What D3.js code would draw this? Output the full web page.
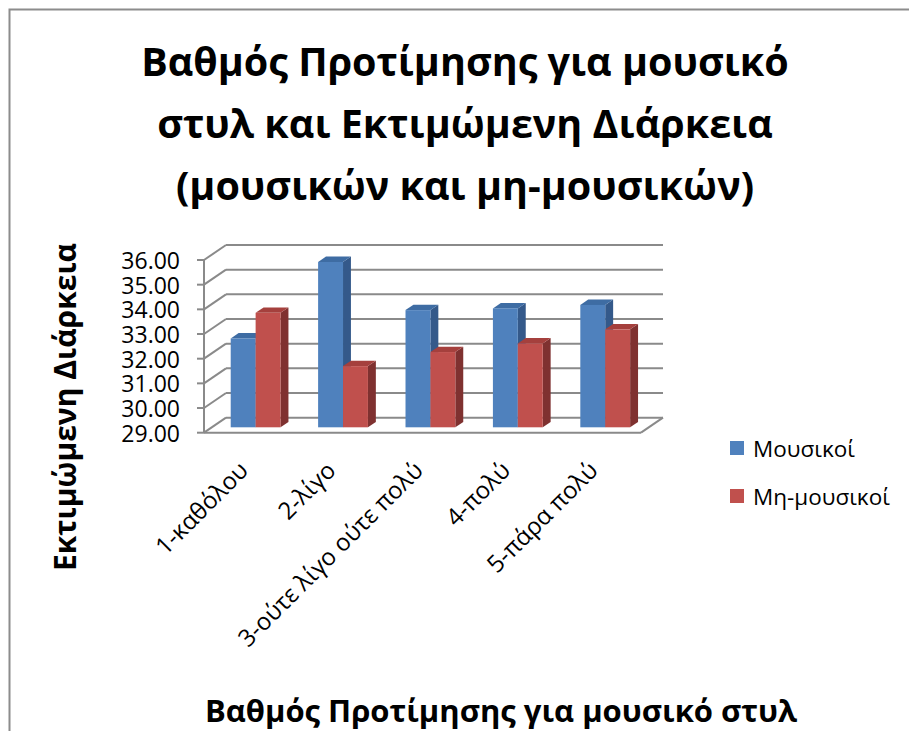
<!DOCTYPE html>
<html>
<head>
<meta charset="utf-8">
<script src="https://cdn.jsdelivr.net/npm/d3@7"></script>
<style>
  html, body { margin: 0; padding: 0; background: #fff; }
  svg text { font-family: "Open Sans", "Noto Sans", sans-serif; fill: #000; }
</style>
</head>
<body>
<svg id="chart" width="909" height="731"></svg>
<script>
// Data
const categories = ["1-καθόλου", "2-λίγο", "3-ούτε λίγο ούτε πολύ", "4-πολύ", "5-πάρα πολύ"];
const seriesNames = ["Μουσικοί", "Μη-μουσικοί"];
const musicians = [32.60, 35.70, 33.75, 33.82, 33.96];
const nonMusicians = [33.64, 31.48, 32.05, 32.40, 32.97];
const yTicks = [29, 30, 31, 32, 33, 34, 35, 36];
const titleLines = ["Βαθμός Προτίμησης για μουσικό", "στυλ και Εκτιμώμενη Διάρκεια", "(μουσικών και μη-μουσικών)"];
const xTitle = "Βαθμός Προτίμησης για μουσικό στυλ";
const yTitle = "Εκτιμώμενη Διάρκεια";

const seriesValues = [musicians, nonMusicians];
const palette = {
  front: ["#4F81BD", "#C0504D"],
  top:   ["#3E6CA3", "#A5403D"],
  side:  ["#34598A", "#7F3130"]
};

const svg = d3.select("#chart");

// Outer frame (runs off the right and bottom edges)
svg.append("rect")
  .attr("x", 9.5).attr("y", 9.5).attr("width", 1000).attr("height", 1000)
  .attr("fill", "none").attr("stroke", "#8c8c8c").attr("stroke-width", 2);

// 3D projection: depth offset of the back wall
const DX = 22, DY = -15;
const F0 = 0.36, F1 = 0.72; // bar front/back depth fraction

const y = d3.scaleLinear().domain([29, 36]).range([432.7, 260]);
const x = d3.scaleBand().domain(categories).range([204, 641])
  .paddingInner(0.43).paddingOuter(0.215);
const xs = d3.scaleBand().domain(seriesNames).range([0, x.bandwidth()]);

const grid = svg.append("g").attr("stroke", "#8a8a8a").attr("stroke-width", 2).attr("fill", "none");
const x0 = x.range()[0], x1 = x.range()[1];

// Back wall gridlines
grid.selectAll("line.back").data(yTicks).join("line")
  .attr("x1", x0 + DX).attr("x2", x1 + DX)
  .attr("y1", d => y(d) + DY).attr("y2", d => y(d) + DY);
// Side wall diagonals
grid.selectAll("line.side").data(yTicks).join("line")
  .attr("x1", x0).attr("x2", x0 + DX)
  .attr("y1", d => y(d)).attr("y2", d => y(d) + DY);
// Tick marks
grid.selectAll("line.tick").data(yTicks).join("line")
  .attr("x1", x0 - 7).attr("x2", x0)
  .attr("y1", d => y(d)).attr("y2", d => y(d));
// Vertical axis
grid.append("line").attr("x1", x0).attr("x2", x0)
  .attr("y1", y(36)).attr("y2", y(29));
// Floor front edge and right edge
grid.append("line").attr("x1", x0).attr("x2", x1)
  .attr("y1", y(29)).attr("y2", y(29));
grid.append("line").attr("x1", x1).attr("x2", x1 + DX)
  .attr("y1", y(29)).attr("y2", y(29) + DY);

// Y tick labels
svg.append("g").selectAll("text").data(yTicks).join("text")
  .attr("x", 180).attr("y", d => y(d))
  .attr("text-anchor", "end").attr("dominant-baseline", "central")
  .style("font-size", "23px")
  .text(d => d3.format(".2f")(d));

// Bars
const bars = svg.append("g");
categories.forEach((cat, ci) => {
  seriesNames.forEach((s, si) => {
    const v = seriesValues[si][ci];
    const bx0 = x(cat) + xs(s) + DX * F0;
    const bx1 = bx0 + xs.bandwidth();
    const top = y(v) + DY * F0;
    const bot = y(29) + DY * F0;
    const ddx = DX * (F1 - F0), ddy = DY * (F1 - F0);
    const g = bars.append("g");
    g.append("polygon")
      .attr("points", [[bx1, top], [bx1 + ddx, top + ddy], [bx1 + ddx, bot + ddy], [bx1, bot]].join(" "))
      .attr("fill", palette.side[si]);
    g.append("polygon")
      .attr("points", [[bx0, top], [bx1, top], [bx1 + ddx, top + ddy], [bx0 + ddx, top + ddy]].join(" "))
      .attr("fill", palette.top[si]);
    g.append("rect")
      .attr("x", bx0).attr("y", top).attr("width", bx1 - bx0).attr("height", bot - top)
      .attr("fill", palette.front[si]);
  });
});

// Category labels, rotated
svg.append("g").selectAll("text").data(categories).join("text")
  .attr("transform", d => `translate(${x(d) + x.bandwidth() / 2 + 2},472) rotate(-45)`)
  .attr("text-anchor", "end")
  .style("font-size", "24px")
  .text(d => d);

// Title
svg.append("g").selectAll("text").data(titleLines).join("text")
  .attr("x", 465).attr("y", (d, i) => 76 + i * 62)
  .attr("text-anchor", "middle")
  .style("font-size", "39.5px").style("font-weight", "bold")
  .text(d => d);

// Axis titles
svg.append("text")
  .attr("transform", "translate(76,407) rotate(-90)")
  .attr("text-anchor", "middle")
  .style("font-size", "30px").style("font-weight", "bold")
  .text(yTitle);
svg.append("text")
  .attr("x", 501).attr("y", 722)
  .attr("text-anchor", "middle")
  .style("font-size", "31px").style("font-weight", "bold")
  .text(xTitle);

// Legend
const legend = svg.append("g");
seriesNames.forEach((s, i) => {
  const ly = 441 + i * 48;
  legend.append("rect").attr("x", 730).attr("y", ly).attr("width", 14).attr("height", 14)
    .attr("fill", palette.front[i]);
  legend.append("text").attr("x", 753).attr("y", ly + 7)
    .attr("dominant-baseline", "central")
    .style("font-size", "22.5px")
    .text(s);
});
</script>
</body>
</html>
